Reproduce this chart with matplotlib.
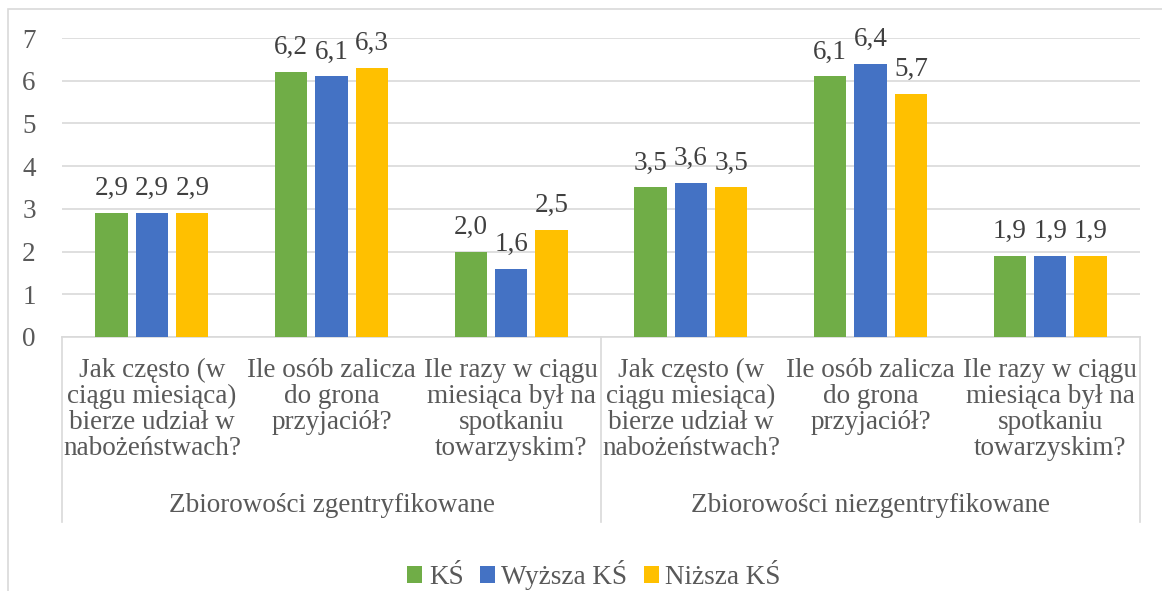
import numpy as np
import matplotlib
matplotlib.use("Agg")
import matplotlib.pyplot as plt
from matplotlib.patches import Rectangle
from matplotlib.transforms import blended_transform_factory

FS = 19.5
plt.rcParams.update({
    "font.family": "Liberation Serif",
    "font.size": FS,
    "text.color": "#595959",
})

QUESTIONS = [
    "Jak często (w\nciągu miesiąca)\nbierze udział w\nnabożeństwach?",
    "Ile osób zalicza\ndo grona\nprzyjaciół?",
    "Ile razy w ciągu\nmiesiąca był na\nspotkaniu\ntowarzyskim?",
]
GROUPS = ["Zbiorowości zgentryfikowane", "Zbiorowości niezgentryfikowane"]
SERIES = ["KŚ", "Wyższa KŚ", "Niższa KŚ"]
ks = [2.9, 6.2, 2.0, 3.5, 6.1, 1.9]
wyzsza = [2.9, 6.1, 1.6, 3.6, 6.4, 1.9]
nizsza = [2.9, 6.3, 2.5, 3.5, 5.7, 1.9]
COLORS = ["#70AD47", "#4472C4", "#FFC000"]
GREY = "#595959"

fig = plt.figure(figsize=(11.62, 5.91), dpi=100)
ax = fig.add_axes([0.0534, 0.4298, 0.9277, 0.5059])

x = np.arange(len(ks))
w = 0.18
off = 0.225
for i, (vals, c, lab) in enumerate(zip([ks, wyzsza, nizsza], COLORS, SERIES)):
    xs = x + (i - 1) * off
    ax.bar(xs, vals, width=w, color=c, label=lab, zorder=3)
    for xi, v in zip(xs, vals):
        ax.text(xi, v + 0.57, f"{v:.1f}".replace(".", ","), ha="center",
                va="center", fontsize=FS, color="#404040")

ax.set_xlim(-0.5, 5.5)
ax.set_ylim(0, 7)
ax.set_yticks(range(8))
ax.yaxis.grid(True, color="#D9D9D9", linewidth=1.2, zorder=0)
ax.set_xticks([])
ax.tick_params(axis="y", length=0, pad=19, labelsize=FS, labelcolor=GREY)
for s in ["top", "right", "left"]:
    ax.spines[s].set_visible(False)
ax.spines["bottom"].set_color("#D9D9D9")
ax.spines["bottom"].set_linewidth(1.2)

tr = blended_transform_factory(ax.transData, fig.transFigure)
for xi in range(len(ks)):
    ax.text(xi, 1 - 358 / 591, QUESTIONS[xi % 3], transform=tr, ha="center",
            va="top", fontsize=FS, color=GREY, linespacing=1.05)
for gi, g in enumerate(GROUPS):
    ax.text(gi * 3 + 1, 1 - 506 / 591, g, transform=tr, ha="center",
            va="center", fontsize=FS, color=GREY)
for xb in [-0.5, 2.5, 5.5]:
    ax.plot([xb, xb], [1 - 337 / 591, 1 - 522 / 591], transform=tr,
            color="#D9D9D9", linewidth=1.2, clip_on=False)

fig.patches.append(Rectangle((8 / 1162, -0.1), 1.2, 1 - 9 / 591 + 0.1,
                             transform=fig.transFigure, fill=False,
                             edgecolor="#D9D9D9", linewidth=1.2))

fig.legend(loc="center", bbox_to_anchor=(594 / 1162, 1 - 575 / 591), ncol=3,
           frameon=False, fontsize=FS, handlelength=0.55, handleheight=0.55,
           handletextpad=0.25, columnspacing=0.6, labelcolor=GREY)

fig.savefig("out.png", dpi=100)
